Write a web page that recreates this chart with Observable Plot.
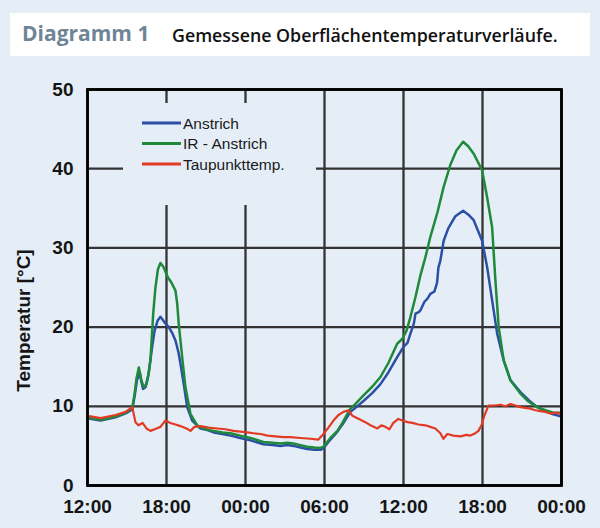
<!DOCTYPE html>
<html><head><meta charset="utf-8">
<script src="https://cdn.jsdelivr.net/npm/d3@7"></script>
<script src="https://cdn.jsdelivr.net/npm/@observablehq/plot@0.6"></script>
<style>
html,body{margin:0;padding:0;background:#e5eef7;}
#wrap{position:relative;width:600px;height:528px;overflow:hidden;background:#e5eef7;}
#title{position:absolute;left:10px;top:13px;width:580px;height:43px;background:#ffffff;}
#t1{position:absolute;left:12px;top:6px;font-family:"Open Sans",sans-serif;font-weight:700;font-size:21px;line-height:normal;color:#6f8596;white-space:nowrap;}
#t2{position:absolute;left:162px;top:10px;font-family:"Open Sans",sans-serif;font-weight:600;font-size:17.8px;line-height:normal;color:#111;white-space:nowrap;}
#chart{position:absolute;left:0;top:56px;}
#legend{position:absolute;left:123px;top:103px;}
</style></head>
<body><div id="wrap">
<div id="title"><span id="t1">Diagramm 1</span><span id="t2">Gemessene Oberflächentemperaturverläufe.</span></div>
<div id="chart"></div>
<svg id="legend" width="193" height="102"></svg>
</div>
<script>
// time axis: hours since 12:00 on day 1
const xTickHours = [0, 6, 12, 18, 24, 30, 36];
const xTickLabels = ["12:00", "18:00", "00:00", "06:00", "12:00", "18:00", "00:00"];
const yTicks = [0, 10, 20, 30, 40, 50];
const seriesNames = ["Anstrich", "IR - Anstrich", "Taupunkttemp."];
const seriesColors = ["#2c4fa6", "#1f8a3a", "#e33a24"];

const anstrichH = [0,0.99,2.13,2.9,3.4,3.6,3.76,3.97,4.1,4.22,4.4,4.63,4.91,5.09,5.32,5.54,5.85,6.17,6.45,6.68,6.91,7.06,7.31,7.57,7.95,8.58,9.11,9.59,10.25,10.86,11.6,12.38,13.36,14.05,14.65,15.19,15.64,16.17,16.7,17.24,17.69,17.92,18.45,18.98,19.36,19.74,19.97,20.35,20.98,21.64,22.25,22.86,23.52,24.0,24.3,24.53,24.78,24.91,25.16,25.28,25.59,25.82,26.04,26.35,26.55,26.65,26.8,27.05,27.41,27.94,28.53,28.93,29.33,29.97,30.35,30.73,31.11,31.61,32.12,32.88,33.49,34.15,34.78,35.38,36];
const anstrichT = [8.5,8.2,8.6,9.1,9.6,11.5,13.3,14.3,13.0,12.2,12.4,14.0,17.5,19.5,20.8,21.3,20.6,20.0,19.2,18.3,16.8,15.4,12.8,9.9,8.2,7.2,7.0,6.7,6.5,6.3,6.0,5.7,5.2,5.1,5.0,5.1,5.0,4.8,4.6,4.5,4.5,4.7,5.8,6.8,7.7,8.7,9.3,9.8,10.7,11.7,12.8,14.3,16.2,17.5,18.0,19.2,20.4,21.7,21.9,22.1,23.2,23.6,24.2,24.5,25.6,27.5,28.4,30.9,32.5,34.0,34.7,34.2,33.5,30.9,27.6,23.4,19.2,15.8,13.3,11.8,10.8,9.9,9.4,9.0,8.7];

const irH = [0,0.99,2.13,2.9,3.4,3.57,3.72,3.9,4.06,4.27,4.48,4.63,4.78,4.99,5.16,5.35,5.54,5.77,6.1,6.38,6.68,6.81,6.93,7.19,7.44,7.82,8.33,8.96,9.57,10.25,10.86,11.6,12.38,13.36,14.05,14.65,15.19,15.64,16.17,16.7,17.24,17.69,17.92,18.45,18.98,19.36,19.74,19.97,20.35,20.98,21.64,22.25,22.86,23.52,23.9,24.22,24.53,24.91,25.28,25.66,26.04,26.58,27.05,27.56,28.02,28.53,28.93,29.33,29.97,30.35,30.73,30.98,31.23,31.61,32.12,32.88,33.49,34.15,34.78,35.38,36];
const irT = [8.6,8.3,8.7,9.2,9.8,11.5,13.5,14.9,13.5,12.4,12.8,14.0,15.8,21.7,25.0,27.3,28.1,27.6,26.3,25.6,24.6,23.0,20.4,16.2,12.4,9.05,7.6,7.1,6.9,6.7,6.6,6.3,6.0,5.5,5.4,5.3,5.4,5.3,5.1,4.9,4.8,4.75,4.9,6.0,6.9,7.9,9.05,9.7,10.3,11.4,12.5,13.7,15.5,17.9,18.5,19.5,21.3,23.8,26.5,28.8,31.4,34.5,37.7,40.5,42.3,43.4,42.8,41.9,39.8,36.4,32.6,25.9,20.0,15.8,13.3,11.6,10.6,9.9,9.5,9.2,9.2];

const taupunktH = [0,0.99,2.13,2.9,3.4,3.64,3.87,4.18,4.48,4.78,5.24,5.54,5.92,6.3,6.68,7.06,7.52,7.82,8.12,8.58,9.19,9.87,10.48,11.09,11.6,12.15,12.6,13.14,13.67,14.27,14.88,15.41,16.17,16.93,17.54,17.92,18.3,18.68,19.06,19.44,19.82,20.12,20.73,21.1,21.49,22.02,22.32,22.63,22.93,23.23,23.61,23.92,24.3,24.68,25.13,25.66,26.04,26.42,26.8,27.03,27.33,27.79,28.32,28.78,29.08,29.46,29.69,29.92,30.14,30.45,30.9,31.36,31.74,32.12,32.5,32.88,33.26,33.64,34.02,34.4,34.78,35.16,35.61,36];
const taupunktT = [8.8,8.5,8.9,9.3,9.9,8.0,7.6,7.9,7.2,6.9,7.2,7.4,8.2,7.9,7.7,7.5,7.2,6.9,7.4,7.5,7.3,7.2,7.1,6.9,6.8,6.7,6.6,6.5,6.3,6.2,6.1,6.1,6.0,5.9,5.8,6.5,7.3,8.2,8.9,9.3,9.5,8.8,8.3,8.0,7.6,7.2,7.6,7.4,7.1,7.9,8.4,8.2,8.0,7.9,7.7,7.6,7.4,7.2,6.6,5.9,6.5,6.3,6.2,6.4,6.3,6.6,6.9,7.6,8.8,10.1,10.1,10.2,10.0,10.3,10.1,9.9,9.8,9.7,9.5,9.4,9.3,9.1,9.2,9.0];

const toRows = (H, T) => H.map((h, i) => ({h, t: T[i]}));
const anstrich = toRows(anstrichH, anstrichT);
const ir = toRows(irH, irT);
const taupunkt = toRows(taupunktH, taupunktT);

const tickFont = {fontSize: 19, fontWeight: "bold", fill: "#151515"};

const chart = Plot.plot({
  width: 600, height: 472,
  marginTop: 33, marginBottom: 43, marginLeft: 87, marginRight: 39,
  style: {background: "transparent", fontFamily: "'Liberation Sans', Arial, sans-serif", overflow: "visible"},
  x: {domain: [0, 36]},
  y: {domain: [0, 50]},
  marks: [
    Plot.ruleX(xTickHours, {stroke: "#333", strokeWidth: 2.3}),
    Plot.ruleY(yTicks, {stroke: "#333", strokeWidth: 2.3}),
    Plot.line(anstrich, {x: "h", y: "t", stroke: seriesColors[0], strokeWidth: 2.5}),
    Plot.line(ir, {x: "h", y: "t", stroke: seriesColors[1], strokeWidth: 2.5}),
    Plot.line(taupunkt, {x: "h", y: "t", stroke: seriesColors[2], strokeWidth: 2.2}),
    Plot.frame({stroke: "#000", strokeWidth: 2.8}),
    Plot.axisX({ticks: xTickHours, tickFormat: d => xTickLabels[xTickHours.indexOf(d)], tickSize: 0, tickPadding: 14, label: null, ...tickFont}),
    Plot.axisY({ticks: yTicks, tickSize: 0, tickPadding: 14, label: null, ...tickFont}),
    Plot.text(["Temperatur [°C]"], {frameAnchor: "left", textAnchor: "middle", dx: -64, dy: 33, rotate: -90, fontSize: 19, fontWeight: "bold", fill: "#151515"})
  ]
});
document.getElementById("chart").appendChild(chart);

// legend (its box hides the grid behind it)
const lg = d3.select("#legend");
lg.append("rect").attr("width", 193).attr("height", 102).attr("fill", "#e5eef7");
seriesNames.forEach((name, i) => {
  const y = 20 + i * 20.5;
  lg.append("line").attr("x1", 19).attr("x2", 58).attr("y1", y).attr("y2", y)
    .attr("stroke", seriesColors[i]).attr("stroke-width", 3);
  lg.append("text").attr("x", 60).attr("y", y + 5.5).text(name)
    .attr("font-family", "'Liberation Sans', Arial, sans-serif").attr("font-size", 15.5)
    .attr("fill", "#1a1a1a");
});
</script>
</body></html>
